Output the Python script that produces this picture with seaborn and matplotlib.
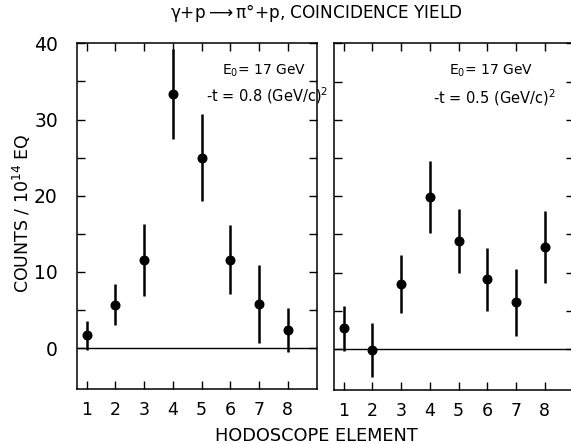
import matplotlib
matplotlib.use("Agg")
import matplotlib.pyplot as plt
import seaborn as sns
import numpy as np
import pandas as pd

# Data
elements = [1, 2, 3, 4, 5, 6, 7, 8]
counts_t08 = [1.7, 5.7, 11.6, 33.3, 25.0, 11.6, 5.8, 2.4]
err_t08 = [1.9, 2.7, 4.7, 5.9, 5.7, 4.5, 5.1, 2.9]
counts_t05 = [2.7, -0.1, 8.5, 19.9, 14.1, 9.1, 6.1, 13.4]
err_t05 = [2.9, 3.5, 3.8, 4.7, 4.2, 4.1, 4.4, 4.7]
yticks_major = [0, 10, 20, 30, 40]
title_text = r"$\gamma$+p$\longrightarrow$$\pi$°+p, COINCIDENCE YIELD"
ylabel_text = r"COUNTS / 10$^{14}$ EQ"
xlabel_text = "HODOSCOPE ELEMENT"
ann_left = [r"E$_0$= 17 GeV", r"-t = 0.8 (GeV/c)$^2$"]
ann_right = [r"E$_0$= 17 GeV", r"-t = 0.5 (GeV/c)$^2$"]

sns.set_theme(style="ticks")
plt.rcParams["font.family"] = ["DejaVu Sans"]
plt.rcParams["mathtext.default"] = "regular"
plt.rcParams["text.color"] = "black"

W, H = 571, 444
fig = plt.figure(figsize=(W / 100, H / 100), dpi=100)

def px_axes(left, right, top, bottom):
    return fig.add_axes([left / W, (H - bottom) / H, (right - left) / W, (bottom - top) / H])

ax1 = px_axes(77.3, 317.3, 43.3, 388.5)
ax2 = px_axes(334.3, 574.3, 43.3, 389.5)

panels = [(ax1, counts_t08, err_t08, ann_left, (222, 71), (206, 96)),
          (ax2, counts_t05, err_t05, ann_right, (449, 71), (433, 98))]

for i, (ax, vals, errs, ann, p1, p2) in enumerate(panels):
    df = pd.DataFrame({"element": elements, "counts": vals, "err": errs})
    ax.errorbar(df["element"], df["counts"], yerr=df["err"], fmt="none",
                ecolor="black", elinewidth=1.8, capsize=0, zorder=3)
    sns.scatterplot(data=df, x="element", y="counts", ax=ax, color="black",
                    s=52, edgecolor="black", linewidth=0, zorder=4, legend=False)
    ax.axhline(0, color="black", lw=1.0, zorder=2)
    ax.set_xlim(0.67, 9.03)
    ax.set_ylim(-5.3, 40)
    ax.set_xticks(elements)
    ax.set_xticklabels([str(e) for e in elements], fontsize=12.5)
    ax.set_yticks(yticks_major)
    ax.set_yticks([5, 15, 25, 35], minor=True)
    ax.tick_params(axis="both", which="both", direction="in", length=6, width=1.0,
                   top=True, right=True, colors="black", labelcolor="black")
    ax.tick_params(axis="x", which="major", pad=9)
    if i == 0:
        ax.set_yticklabels([str(v) for v in yticks_major], fontsize=13.5)
        ax.tick_params(axis="y", pad=14)
    else:
        ax.set_yticklabels([])
    for sp in ax.spines.values():
        sp.set_visible(True)
        sp.set_linewidth(1.1)
        sp.set_color("black")
    ax.set_xlabel("")
    ax.set_ylabel("")
    ax.grid(False)
    fig.text(p1[0] / W, 1 - p1[1] / H, ann[0], fontsize=10, ha="left", va="center", color="black")
    fig.text(p2[0] / W, 1 - p2[1] / H, ann[1], fontsize=10.5, ha="left", va="center", color="black")

fig.text(316 / W, 1 - 13 / H, title_text, fontsize=12.2, ha="center", va="center", color="black")
fig.text(22 / W, 1 - 213 / H, ylabel_text, fontsize=12.5, ha="center", va="center", rotation=90, color="black")
fig.text(316 / W, 1 - 436 / H, xlabel_text, fontsize=12.8, ha="center", va="center", color="black")

fig.savefig("out.png", dpi=100)
